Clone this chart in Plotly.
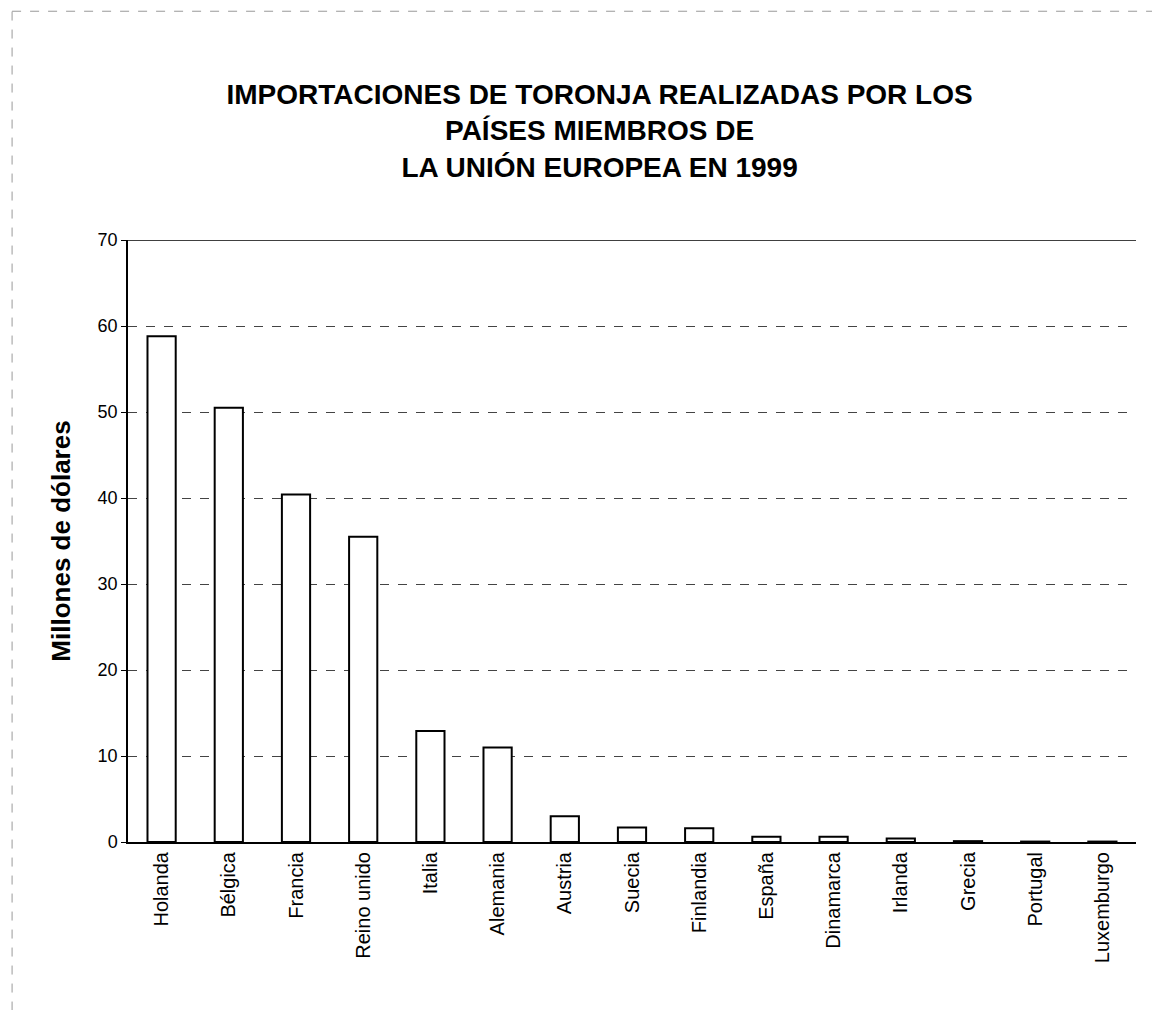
import plotly.graph_objects as go

paises = ["Holanda", "Bélgica", "Francia", "Reino unido", "Italia", "Alemania",
          "Austria", "Suecia", "Finlandia", "España", "Dinamarca", "Irlanda",
          "Grecia", "Portugal", "Luxemburgo"]
valores = [58.8, 50.5, 40.4, 35.5, 12.9, 11.0, 3.0, 1.7, 1.6, 0.6, 0.6, 0.4, 0.1, 0.05, 0.05]
y_ticks = [0, 10, 20, 30, 40, 50, 60, 70]

titulo = "IMPORTACIONES DE TORONJA REALIZADAS POR LOS<br>PAÍSES MIEMBROS DE<br>LA UNIÓN EUROPEA EN 1999"
FONT = "Liberation Sans, Arial, sans-serif"

fig = go.Figure()
fig.add_trace(go.Bar(
    x=paises, y=valores,
    marker=dict(color="white", line=dict(color="black", width=2)),
    width=0.42,
))

fig.update_layout(
    width=1160, height=1010,
    paper_bgcolor="white", plot_bgcolor="white",
    margin=dict(l=120, r=32, t=232, b=176),
    font=dict(family=FONT, color="black"),
    title=dict(text=titulo, x=0.51, xanchor="center", y=0.905, yanchor="top",
               font=dict(size=28, family=FONT, color="black", weight="bold")),
    showlegend=False,
)
fig.update_yaxes(
    range=[0, 70], tickvals=y_ticks, showgrid=True,
    gridcolor="#444444", gridwidth=1, griddash="dash",
    showline=True, linecolor="black", linewidth=1.5,
    ticks="outside", ticklen=5, tickcolor="black",
    tickfont=dict(size=18, family=FONT),
    title=dict(text="<b>Millones de dólares</b>", font=dict(size=26, family=FONT), standoff=20),
)
fig.update_xaxes(
    showline=True, linecolor="black", linewidth=2,
    tickangle=-90, tickfont=dict(size=20, family=FONT),
    ticks="", showgrid=False,
)
# top border of plot area
fig.add_hline(y=70, line=dict(color="black", width=1.5))

# faint scanned page edges
fig.add_shape(type="line", xref="paper", yref="paper", x0=-0.115, x1=-0.115, y0=-0.28, y1=1.38,
              line=dict(color="#999999", width=1, dash="dash"))
fig.add_shape(type="line", xref="paper", yref="paper", x0=-0.115, x1=1.03, y0=1.38, y1=1.38,
              line=dict(color="#999999", width=1, dash="dash"))

fig.write_html("out.html")
